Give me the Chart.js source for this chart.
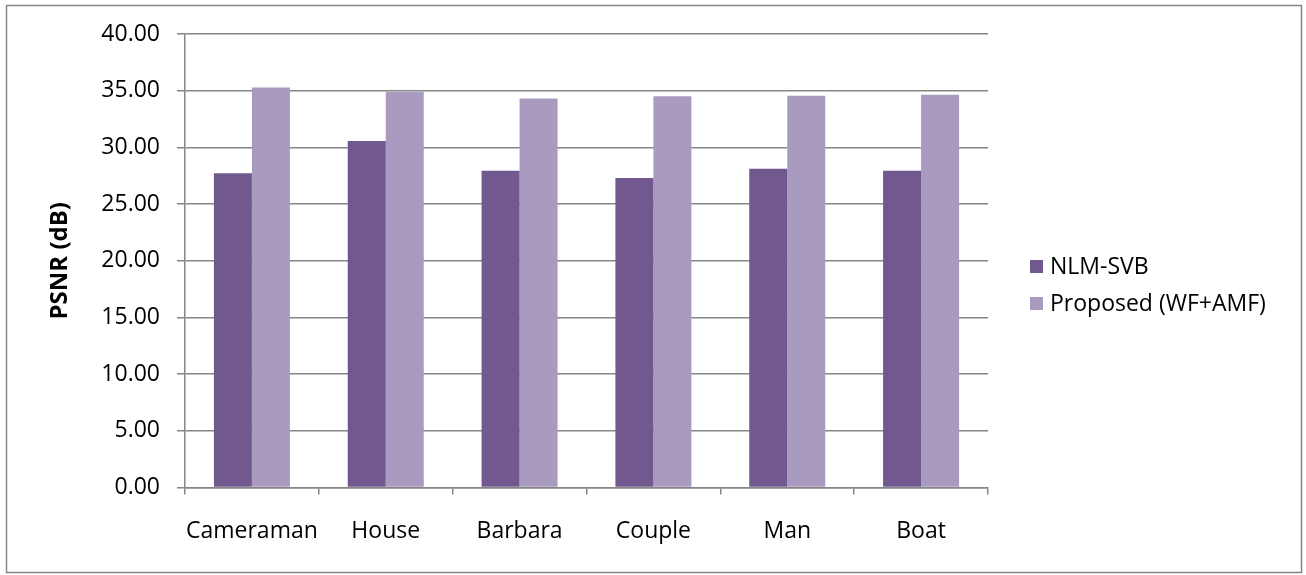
<!DOCTYPE html>
<html>
<head>
<meta charset="utf-8">
<script src="https://cdn.jsdelivr.net/npm/chart.js@4/dist/chart.umd.min.js"></script>
<style>
html,body{margin:0;padding:0;background:#fff;}
#wrap{position:relative;width:1306px;height:575px;}
</style>
</head>
<body>
<div id="wrap"><canvas id="c" width="1306" height="575"></canvas></div>
<script>
const categories = ["Cameraman", "House", "Barbara", "Couple", "Man", "Boat"];
const nlmSvb = [27.71, 30.56, 27.94, 27.29, 28.11, 27.94];
const proposed = [35.29, 34.90, 34.32, 34.52, 34.55, 34.64];
const seriesNames = ["NLM-SVB", "Proposed (WF+AMF)"];
const yTitle = "PSNR (dB)";

const FONT = "'Open Sans', sans-serif";
const GRAY = "#868686";

const frame = {
  id: 'frame',
  afterDraw(chart) {
    const ctx = chart.ctx;
    ctx.save();
    ctx.strokeStyle = GRAY;
    ctx.lineWidth = 1.5;
    ctx.strokeRect(6.5, 5.5, 1295, 567);
    ctx.restore();
  }
};

const legendPlugin = {
  id: 'sideLegend',
  afterDraw(chart) {
    const ctx = chart.ctx;
    ctx.save();
    ctx.font = "23px " + FONT;
    ctx.textBaseline = 'middle';
    chart.data.datasets.forEach((ds, i) => {
      const y = 266 + i * 37;
      ctx.fillStyle = ds.backgroundColor;
      ctx.fillRect(1030, y - 6, 13, 13);
      ctx.fillStyle = '#000';
      ctx.fillText(ds.label, 1050, y + 1);
    });
    ctx.restore();
  }
};

new Chart(document.getElementById('c'), {
  type: 'bar',
  data: {
    labels: categories,
    datasets: [
      { label: seriesNames[0], data: nlmSvb, backgroundColor: '#715990', categoryPercentage: 0.568, barPercentage: 1.0 },
      { label: seriesNames[1], data: proposed, backgroundColor: '#a99bbf', categoryPercentage: 0.568, barPercentage: 1.0 }
    ]
  },
  options: {
    responsive: false,
    animation: false,
    layout: { padding: { left: 20, right: 318, top: 34, bottom: 10 } },
    plugins: { legend: { display: false }, tooltip: { enabled: false } },
    scales: {
      x: {
        grid: { offset: true, drawOnChartArea: false, drawTicks: true, tickLength: 7, color: GRAY, lineWidth: 1.5 },
        border: { color: GRAY, width: 1.5 },
        ticks: { font: { family: FONT, size: 23 }, color: '#000', padding: 23, maxRotation: 0, minRotation: 0, autoSkip: false },
        afterFit(scale) { scale.height = 575 - 10 - 487.5; }
      },
      y: {
        min: 0, max: 40,
        ticks: { stepSize: 5, font: { family: FONT, size: 23 }, color: '#000', padding: 17,
                 callback: v => Number(v).toFixed(2) },
        grid: { color: GRAY, lineWidth: 1.5, tickLength: 8 },
        border: { color: GRAY, width: 1.5 },
        title: { display: true, text: yTitle, font: { family: FONT, size: 24, weight: 'bold' }, color: '#000', padding: { top: 26, bottom: 0 } },
        afterFit(scale) { scale.width = 165; }
      }
    }
  },
  plugins: [frame, legendPlugin]
});
</script>
</body>
</html>
